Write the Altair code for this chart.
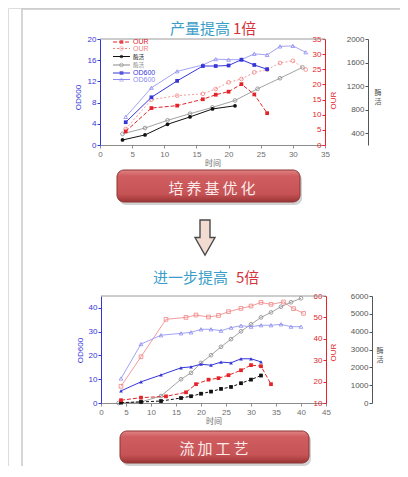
import pandas as pd
import altair as alt

W, H = 392, 458
FONT = "Liberation Sans"
CJK = "Noto Sans CJK SC"

BLUE = "#3636d8"
LBLUE = "#8c8cf0"
RED = "#e3242b"
LRED = "#f08282"
BLACK = "#111111"
GRAY = "#8a8a8a"
AXGRAY = "#555555"

# ---- top chart: 产量提高 1倍 ----
t1_od_filled = [4, 8, 12, 16, 18, 20, 22, 24, 26]
od1_filled = [4.3, 9.0, 12.1, 14.9, 14.9, 15.0, 16.1, 15.1, 14.3]
t1_od_open = [4, 8, 12, 16, 18, 20, 22, 24, 26, 28, 30, 32]
od1_open = [5.3, 10.8, 13.9, 15.1, 16.2, 16.1, 16.1, 17.2, 17.0, 18.6, 18.7, 17.5]
t1_our_filled = [4, 8, 12, 16, 18, 20, 22, 24, 26]
our1_filled = [4.5, 12.2, 13.0, 15.1, 16.6, 17.6, 20.1, 16.7, 10.5]
t1_our_open = [4, 8, 12, 16, 18, 20, 22, 24, 26, 28, 30, 32]
our1_open = [5.3, 15.0, 16.3, 16.9, 18.5, 20.7, 21.8, 24.0, 24.9, 27.1, 27.8, 24.9]
t1_act_filled = [3.5, 7, 10.5, 14, 17.5, 21]
act1_filled = [285, 371, 551, 677, 812, 866]
t1_act_open = [3.5, 7, 10.5, 14, 17.5, 21, 24.5, 28, 31.5]
act1_open = [389, 488, 619, 731, 839, 956, 1154, 1334, 1519]

# ---- bottom chart: 进一步提高 5倍 ----
t2_od_open = [4, 8, 12, 16, 18, 20, 22, 24, 26, 28, 30, 32, 34, 36, 38, 40]
od2_open = [10.3, 24.8, 28.5, 29.3, 29.7, 31.0, 31.0, 30.4, 31.7, 32.5, 32.1, 32.7, 32.7, 33.1, 32.1, 32.1]
t2_od_filled = [4, 8, 12, 16, 18, 20, 22, 24, 26, 28, 30, 32]
od2_filled = [5.1, 8.9, 11.8, 14.8, 15.2, 16.3, 15.9, 17.2, 16.9, 18.6, 18.6, 17.3]
t2_our_open = [4, 8, 13, 17, 19, 21.5, 23.5, 25.5, 28, 30, 32, 34, 36.5, 38.5, 40.5]
our2_open = [17.8, 31.6, 49.1, 50.0, 51.1, 50.2, 50.9, 52.7, 54.2, 55.3, 57.0, 56.1, 57.2, 54.1, 51.9]
t2_our_filled = [4, 8, 13, 17, 19, 21.5, 23.5, 25.5, 28, 30, 32, 34]
our2_filled = [11.3, 12.5, 13.1, 15.0, 18.8, 20.9, 21.6, 23.0, 25.3, 27.7, 27.2, 18.8]
t2_act_filled = [4, 8, 12, 16, 18, 20, 22, 24, 26, 28, 30, 32]
act2_filled = [20, 60, 110, 280, 380, 520, 640, 790, 900, 1110, 1310, 1540]
t2_act_open = [3.5, 8, 12, 16, 18, 20, 22, 24, 26, 28, 30, 32, 34, 36, 38, 40]
act2_open = [0, 60, 390, 1330, 1690, 2250, 2680, 3150, 3580, 4020, 4410, 4800, 5080, 5400, 5650, 5870]

legend_labels = ["OUR", "OUR", "酶活", "酶活", "OD600", "OD600"]
steps = ["培养基优化", "流加工艺"]

one = pd.DataFrame({"k": [0]})


def xaxis(y_pos, values):
    return alt.Axis(orient="bottom", offset=y_pos - H, values=values, format="d",
                    domainColor="#8c8c8c", tickColor="#8c8c8c", labelColor="#6e6e6e",
                    labelFont=FONT, labelFontSize=8, tickSize=3, labelPadding=2,
                    labelFlush=False, labelOverlap=False, grid=False,
                    title="时间", titleFont=CJK, titleColor="#6e6e6e", titleFontSize=8,
                    titleFontWeight="normal", titleY=18, titleBaseline="middle")


def yaxis(x_pos, values, color, title=None, title_x=0, title_y=0):
    kw = dict(orient="left", offset=-x_pos, values=values, format="d",
              domainColor=color, tickColor=color, labelColor=color,
              labelFont=FONT, labelFontSize=8, tickSize=3, labelPadding=1, grid=False)
    if title:
        kw.update(title=title, titleFont=FONT, titleColor=color, titleFontSize=8,
                  titleFontWeight="normal", titleX=title_x, titleY=title_y,
                  titleBaseline="middle", titleAlign="center", titleAngle=270)
    return alt.Axis(**kw)


def series(t, v, xdom, xrng, ydom, yrng, color, shape, filled, dash=None,
           width=1.0, xax=None, yax=None):
    df = pd.DataFrame({"t": t, "v": v})
    kw = dict(color=color, strokeWidth=width,
              point=alt.OverlayMarkDef(shape=shape, filled=filled, size=14,
                                       color=color, strokeWidth=0.8))
    if dash:
        kw["strokeDash"] = dash
    return alt.Chart(df).mark_line(**kw).encode(
        x=alt.X("t:Q", scale=alt.Scale(domain=xdom, range=xrng, nice=False, zero=False),
                axis=xax, title=None),
        y=alt.Y("v:Q", scale=alt.Scale(domain=ydom, range=yrng, nice=False, zero=False),
                axis=yax, title=None),
    )


def rule(x, x2, y, y2, color="#c8c8c8", width=1.5):
    return alt.Chart(one).mark_rule(color=color, strokeWidth=width).encode(
        x=alt.value(x), x2=alt.value(x2), y=alt.value(y), y2=alt.value(y2))


def text(x, y, s, color, size, align="center", font=CJK, baseline="middle"):
    return alt.Chart(one).mark_text(font=font, fontSize=size, color=color, align=align,
                                    baseline=baseline).encode(
        x=alt.value(x), y=alt.value(y), text=alt.value(s))


button_fill = alt.Gradient(
    gradient="linear", x1=0, x2=0, y1=0, y2=1,
    stops=[alt.GradientStop(offset=0, color="#e08484"),
           alt.GradientStop(offset=0.18, color="#d05e60"),
           alt.GradientStop(offset=0.75, color="#c65355"),
           alt.GradientStop(offset=1, color="#9a3435")])


def button(x, x2, y, y2, label, tx, ty):
    shadow = alt.Chart(one).mark_rect(cornerRadius=7, color="#000000", opacity=0.18).encode(
        x=alt.value(x + 2), x2=alt.value(x2 + 2), y=alt.value(y + 3), y2=alt.value(y2 + 3))
    body = alt.Chart(one).mark_rect(cornerRadius=7, fill=button_fill, stroke="#8e3434",
                                    strokeWidth=1).encode(
        x=alt.value(x), x2=alt.value(x2), y=alt.value(y), y2=alt.value(y2))
    spaced = "\u2009".join(label)
    return [shadow, body, text(tx, ty, spaced, "#fbeaea", 15)]


layers = []

# page frame
layers.append(rule(14, 14, 0, H))
layers.append(rule(14, W, 1, 1))

# titles
layers += [text(222, 21, "产量提高", "#3a9ec9", 15, align="right"),
           text(225, 21, "1倍", "#d2343a", 15, align="left"),
           text(220, 270, "进一步提高", "#3a9ec9", 15, align="right"),
           text(228, 270, "5倍", "#d2343a", 15, align="left")]

# plot box tops
layers.append(rule(92, 317, 31, 31, color="#9a9a9a", width=1))
layers.append(rule(93, 318, 288, 288, color="#9a9a9a", width=1))

# third axis titles
layers.append(text(370, 81, ["酶", "活"], "#555555", 7, baseline="top"))
layers.append(text(372, 339, ["酶", "活"], "#555555", 7, baseline="top"))

# top chart series
X1, XR1, YR1 = [0, 35], [92, 317], [137, 31]
layers += [
    series(t1_act_open, act1_open, X1, XR1, [200, 2000], YR1, GRAY, "circle", False, width=0.8),
    series(t1_act_filled, act1_filled, X1, XR1, [200, 2000], YR1, BLACK, "circle", True,
           yax=yaxis(360, [400, 800, 1200, 1600, 2000], AXGRAY)),
    series(t1_our_open, our1_open, X1, XR1, [0, 35], YR1, LRED, "circle", False, dash=[2, 2], width=0.8),
    series(t1_our_filled, our1_filled, X1, XR1, [0, 35], YR1, RED, "square", True, dash=[4, 2],
           yax=yaxis(317, [0, 5, 10, 15, 20, 25, 30, 35], RED, "OUR", 8, 92)),
    series(t1_od_open, od1_open, X1, XR1, [0, 20], YR1, LBLUE, "triangle-up", False, width=0.8),
    series(t1_od_filled, od1_filled, X1, XR1, [0, 20], YR1, BLUE, "square", True,
           xax=xaxis(137, [0, 5, 10, 15, 20, 25, 30, 35]),
           yax=yaxis(92, [0, 4, 8, 12, 16, 20], BLUE, "OD600", -22, 89)),
]

# top chart legend
legend_style = [(RED, "square", True, [4, 2], 34), (LRED, "circle", False, [2, 2], 40.5),
                (BLACK, "circle", True, None, 48.5), (GRAY, "circle", False, None, 57),
                (BLUE, "square", True, None, 65), (LBLUE, "triangle-up", False, None, 71.5)]
for lab, (col, shp, fil, dash, yy) in zip(legend_labels, legend_style):
    kw = dict(color=col, strokeWidth=1)
    if dash:
        kw["strokeDash"] = dash
    layers.append(alt.Chart(one).mark_rule(**kw).encode(
        x=alt.value(105), x2=alt.value(122), y=alt.value(yy)))
    layers.append(alt.Chart(one).mark_point(shape=shp, filled=fil, color=col, size=14,
                                            strokeWidth=0.8).encode(
        x=alt.value(113.5), y=alt.value(yy)))
    ascii_lab = lab[0].isascii()
    layers.append(text(125, yy, lab, col, 7 if ascii_lab else 5.5, align="left",
                       font=FONT if ascii_lab else CJK))

# bottom chart series
X2, XR2, YR2 = [0, 45], [93, 318], [395, 288]
layers += [
    series(t2_act_open, act2_open, X2, XR2, [0, 6000], YR2, GRAY, "circle", False, width=0.8),
    series(t2_act_filled, act2_filled, X2, XR2, [0, 6000], YR2, BLACK, "square", True, dash=[3, 2],
           yax=yaxis(364, [0, 1000, 2000, 3000, 4000, 5000, 6000], AXGRAY)),
    series(t2_our_open, our2_open, X2, XR2, [10, 60], YR2, LRED, "square", False, width=0.8),
    series(t2_our_filled, our2_filled, X2, XR2, [10, 60], YR2, RED, "square", True, dash=[4, 2],
           yax=yaxis(318, [10, 20, 30, 40, 50, 60], RED, "OUR", 7, 344)),
    series(t2_od_open, od2_open, X2, XR2, [0, 45], YR2, LBLUE, "triangle-up", False, width=0.8),
    series(t2_od_filled, od2_filled, X2, XR2, [0, 45], YR2, BLUE, "triangle-up", True,
           xax=xaxis(395, [0, 5, 10, 15, 20, 25, 30, 35, 40, 45]),
           yax=yaxis(93, [0, 10, 20, 30, 40], BLUE, "OD600", -21, 342)),
]

# step buttons and arrow
layers += button(109, 292, 162, 194, steps[0], 204, 181)
layers += button(112, 301, 423, 455, steps[1], 206, 441)

arrow = "M-0.286,-1 L0.286,-1 L0.286,0 L0.571,0 L0,1 L-0.571,0 L-0.286,0 Z"
layers.append(alt.Chart(one).mark_point(shape=arrow, size=1225, filled=True, fill="#f2dcd2",
                                        stroke="#4a4a4a", strokeWidth=1.4, opacity=1).encode(
    x=alt.value(197), y=alt.value(229.5)))

chart = (
    alt.layer(*layers)
    .resolve_scale(x="independent", y="independent")
    .properties(width=W, height=H, padding=0, autosize=alt.AutoSizeParams(type="none"))
    .configure_view(strokeWidth=0)
    .configure(background="white")
)

chart.save("out.html", embed_options={"renderer": "svg", "actions": False})
